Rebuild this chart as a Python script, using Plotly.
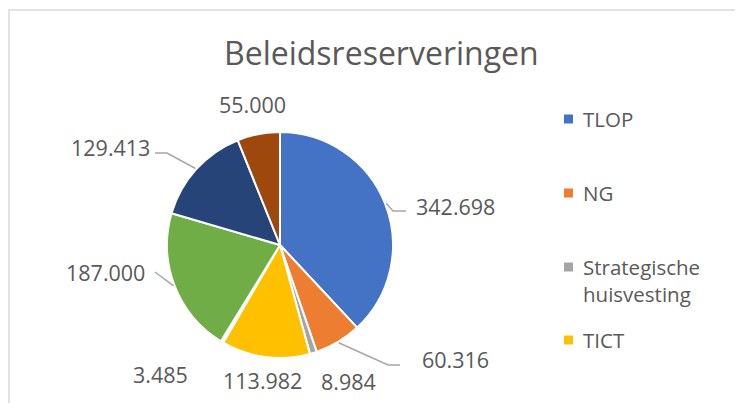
import math
import plotly.graph_objects as go

# ---- data ----
categories = ["TLOP", "NG", "Strategische huisvesting", "TICT", "Overig", "Cat6", "Cat7", "Cat8"]
values = [342698, 60316, 8984, 113982, 3485, 187000, 129413, 55000]
colors = ["#4472C4", "#ED7D31", "#A5A5A5", "#FFC000", "#FFFFFF", "#70AD47", "#264478", "#9E480E"]
legend_labels = ["TLOP", "NG", "Strategische<br>huisvesting", "TICT"]

W, H = 743, 403
OFF = 8  # page body margin
CX, CY, R = 280, 245, 113
FONT = "Open Sans"
TXT = "#595959"

def px(x):
    return (x - OFF) / W

def py(y):
    return 1 - (y - OFF) / H

fig = go.Figure()
fig.add_trace(go.Pie(
    labels=categories, values=values, sort=False, direction="clockwise", rotation=0,
    marker=dict(colors=colors, line=dict(color="white", width=2)),
    textinfo="none", hoverinfo="label+value", showlegend=False,
    domain=dict(x=[px(CX - R), px(CX + R)], y=[py(CY + R), py(CY - R)]),
))

# data label positions (text centres, pixels in the reference)
label_pos = [(455, 206), (455, 359), (348, 381), (262, 380), (160, 374), (105, 272), (110, 148), (252, 105)]
# leader line elbows / ends for labels that have one
leaders = {0: [(393, 211), (406, 211)], 1: [(388, 365), (400, 365)], 5: [(155, 272)], 6: [(167, 153), (155, 153)]}

total = sum(values)
cum = 0
annotations = []
shapes = []
for i, v in enumerate(values):
    mid = (cum + v / 2) / total * 2 * math.pi
    cum += v
    lx, ly = label_pos[i]
    txt = f"{v:,}".replace(",", ".")
    annotations.append(dict(x=px(lx), y=py(ly), xref="paper", yref="paper", text=txt, showarrow=False,
                            xanchor="center", yanchor="middle", font=dict(family=FONT, size=21.5, color=TXT)))
    if i in leaders:
        ex = CX + (R + 1) * math.sin(mid)
        ey = CY - (R + 1) * math.cos(mid)
        pts = [(ex, ey)] + leaders[i]
        path = "M " + " L ".join(f"{px(a)},{py(b)}" for a, b in pts)
        shapes.append(dict(type="path", path=path, xref="paper", yref="paper",
                           line=dict(color="#A6A6A6", width=1.5)))

# title
annotations.append(dict(x=px(381), y=py(52), xref="paper", yref="paper", text="Beleidsreserveringen",
                        showarrow=False, xanchor="center", yanchor="middle",
                        font=dict(family=FONT, size=32, color=TXT)))

# manual legend (first four entries shown)
leg_y = [119, 193, 280, 340]
for i, lab in enumerate(legend_labels):
    sq_y = leg_y[i] if i != 2 else 267
    shapes.append(dict(type="rect", xref="paper", yref="paper",
                       x0=px(564), x1=px(573), y0=py(sq_y + 4.5), y1=py(sq_y - 4.5),
                       fillcolor=colors[i], line=dict(width=0)))
    annotations.append(dict(x=px(581), y=py(leg_y[i]), xref="paper", yref="paper", text=lab,
                            showarrow=False, xanchor="left", yanchor="middle", align="left",
                            font=dict(family=FONT, size=20.5, color=TXT)))

# chart frame
shapes.append(dict(type="path", xref="paper", yref="paper",
                   path=f"M {px(9)},{py(420)} L {px(9)},{py(10)} L {px(760)},{py(10)}",
                   line=dict(color="#D9D9D9", width=1.5)))

fig.update_layout(
    width=W, height=H, margin=dict(l=0, r=0, t=0, b=0),
    paper_bgcolor="white", plot_bgcolor="white",
    annotations=annotations, shapes=shapes, showlegend=False,
    font=dict(family=FONT, color=TXT),
)
fig.write_html("out.html")
